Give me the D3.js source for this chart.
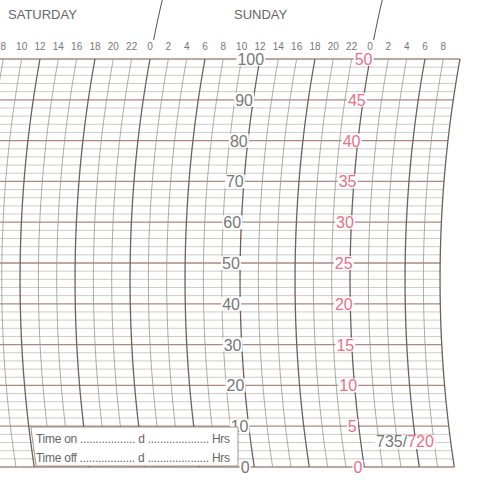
<!DOCTYPE html><html><head><meta charset="utf-8"><script src="https://cdn.jsdelivr.net/npm/d3@7"></script>
<style>body{margin:0;background:#fff}text{font-family:"Liberation Sans",Arial,sans-serif}</style></head><body><svg id="c" width="480" height="480"></svg><script>
const dayLabels=["SATURDAY","SUNDAY"];
const hours=d3.range(0,58,2);
const hourTicks=[8,10,12,14,16,18,20,22,0,2,4,6,8,10,12,14,16,18,20,22,0,2,4,6,8];
const grayTicks=d3.range(0,101,10);
const pinkTicks=d3.range(0,51,5);
const formText=["Time on","Time off"];
const chartCode=["735/","720"];

const svg=d3.select("#c");
const y=d3.scaleLinear().domain([0,100]).range([467,59]);
const x=d3.scaleLinear().domain([24,48]).range([150,370]);
const R=1234,yc=280;
const off=yy=>R-Math.sqrt(R*R-(yy-yc)*(yy-yc));
const top0=off(59);
const arcX=(xt,yy)=>xt-top0+off(yy);
const rightX=460;
const arcPath=(xt,y0,y1)=>{const p=d3.path();let s=true;for(let yy=y0;yy<=y1;yy+=4){const xx=arcX(xt,yy);s?p.moveTo(xx,yy):p.lineTo(xx,yy);s=false;}return p.toString();};
d3.range(0,101,2).forEach(v=>{const yy=y(v);const maj=v%10===0;
 svg.append("line").attr("x1",0).attr("x2",arcX(rightX,yy)).attr("y1",yy).attr("y2",yy)
 .attr("stroke",maj?"#a88a80":"#c4bcb8").attr("stroke-width",maj?1.3:0.8);});
hours.forEach(h=>{const xt=x(h);if(xt>rightX-3||xt<-30)return;const maj=h%6===0;
 svg.append("path").attr("d",arcPath(xt,59,467)).attr("fill","none")
 .attr("stroke",maj?"#6e605b":"#9c9693").attr("stroke-width",maj?1.3:0.8);});
svg.append("path").attr("d",arcPath(rightX,59,467)).attr("fill","none").attr("stroke","#6e605b").attr("stroke-width",1.3);
[24,48].forEach(h=>svg.append("path").attr("d",arcPath(x(h),0,40)).attr("fill","none").attr("stroke","#555").attr("stroke-width",1));
svg.selectAll(".day").data(dayLabels).join("text").attr("x",(d,i)=>[8,234][i]).attr("y",19)
 .attr("font-size",13).attr("fill","#666").text(d=>d);
svg.selectAll(".ht").data(hourTicks).join("text").attr("x",(d,i)=>x(8+2*i)).attr("y",50)
 .attr("text-anchor","middle").attr("font-size",10).attr("fill","#777").text(d=>d);
function scaleLabels(data,vmax,xt,color){data.forEach(v=>{const yy=y(v*100/vmax);const xx=arcX(xt,yy);
 const t=svg.append("text").attr("x",xx).attr("y",yy+6).attr("text-anchor","middle").attr("font-size",16).attr("fill",color).text(v);
 const b=t.node().getBBox();svg.insert("rect","text").attr("x",b.x-1).attr("y",yy-7).attr("width",b.width+2).attr("height",14).attr("fill","#fff");
 t.raise();});}
scaleLabels(grayTicks,100,x(35),"#777");
scaleLabels(pinkTicks,50,x(47.3),"#e8708a");
const lx=yy=>arcX(x(12),yy)+2;
svg.append("path").attr("d","M"+lx(427)+",427L238,427L238,466L"+lx(466)+",466Z").attr("fill","#fff").attr("stroke","#8a7a75").attr("stroke-width",0.8);
formText.forEach((t,i)=>{const yy=443+19*i;
 svg.append("text").attr("x",36).attr("y",yy).attr("font-size",12).attr("fill","#666")
  .attr("textLength",194).attr("lengthAdjust","spacing").text(t+" .................. d .................... Hrs");});
const ct=svg.append("text").attr("x",376).attr("y",447).attr("font-size",16);
ct.append("tspan").attr("fill","#777").text(chartCode[0]);ct.append("tspan").attr("fill","#e8708a").text(chartCode[1]);
const cb=ct.node().getBBox();svg.insert("rect","text").attr("x",cb.x-1).attr("y",cb.y+2).attr("width",cb.width+2).attr("height",cb.height-3).attr("fill","#fff");ct.raise();
</script></body></html>
